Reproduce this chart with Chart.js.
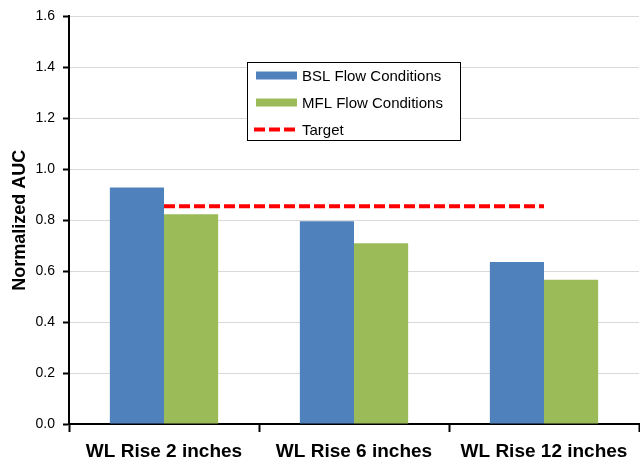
<!DOCTYPE html>
<html>
<head>
<meta charset="utf-8">
<script src="https://cdn.jsdelivr.net/npm/chart.js@4/dist/chart.umd.min.js"></script>
<style>
  html, body { margin: 0; padding: 0; background: #fff; }
  #wrap { width: 640px; height: 466px; }
</style>
</head>
<body>
<div id="wrap"><canvas id="chartAuc"></canvas></div>
<script>
'use strict';

var categories = ['WL Rise 2 inches', 'WL Rise 6 inches', 'WL Rise 12 inches'];
var bslValues = [0.928, 0.796, 0.636];
var mflValues = [0.823, 0.710, 0.566];
var targetValues = [0.855, 0.855, 0.855];
var seriesNames = ['BSL Flow Conditions', 'MFL Flow Conditions', 'Target'];

var FONT = "'Liberation Sans', Arial, sans-serif";

// legend box drawn inside the plot, like the original
var boxLegend = {
    id: 'boxLegend',
    afterDraw: function (chart) {
        var ctx = chart.ctx;
        var x = 247, y = 62, w = 213, h = 78;
        ctx.save();
        ctx.fillStyle = '#fff';
        ctx.fillRect(x, y, w, h);
        ctx.strokeStyle = '#000';
        ctx.lineWidth = 1;
        ctx.strokeRect(x + 0.5, y + 0.5, w, h);
        ctx.font = '15px ' + FONT;
        ctx.textBaseline = 'middle';
        chart.data.datasets.forEach(function (ds, i) {
            var cy = 75.5 + i * 27;
            if (ds.type === 'line') {
                ctx.strokeStyle = ds.borderColor;
                ctx.lineWidth = 4;
                ctx.setLineDash([11, 4]);
                ctx.beginPath();
                ctx.moveTo(254, cy);
                ctx.lineTo(297, cy);
                ctx.stroke();
                ctx.setLineDash([]);
            } else {
                ctx.fillStyle = ds.backgroundColor;
                ctx.fillRect(256, cy - 4, 41, 8);
            }
            ctx.fillStyle = '#000';
            ctx.fillText(ds.label, 302, cy + 1);
        });
        ctx.restore();
    }
};

var ctx = document.getElementById('chartAuc');
var aucChart = new Chart(ctx, {
    type: 'bar',
    data: {
        labels: categories,
        datasets: [
            {
                label: seriesNames[0],
                data: bslValues,
                backgroundColor: '#4F81BD',
                borderWidth: 0,
                order: 1
            },
            {
                label: seriesNames[1],
                data: mflValues,
                backgroundColor: '#9BBB59',
                borderWidth: 0,
                order: 1
            },
            {
                label: seriesNames[2],
                type: 'line',
                data: targetValues,
                borderColor: '#ff0000',
                borderWidth: 4,
                borderDash: [11, 4],
                pointRadius: 0,
                fill: false,
                order: 0
            }
        ]
    },
    options: {
        responsive: true,
        maintainAspectRatio: false,
        animation: false,
        categoryPercentage: 0.57,
        barPercentage: 1.0,
        layout: { padding: { top: 14, right: 1, left: 0, bottom: 0 } },
        plugins: {
            legend: { display: false },
            tooltip: { enabled: false }
        },
        scales: {
            x: {
                offset: true,
                grid: {
                    display: true,
                    offset: true,
                    drawOnChartArea: false,
                    drawTicks: true,
                    tickLength: 8,
                    tickColor: '#000',
                    tickWidth: 2
                },
                border: { color: '#000', width: 2 },
                ticks: {
                    color: '#000',
                    font: { family: FONT, size: 19, weight: 'bold' },
                    padding: 8,
                    maxRotation: 0
                },
                afterFit: function (scale) { scale.height = 42; }
            },
            y: {
                min: 0,
                max: 1.6,
                ticks: {
                    stepSize: 0.2,
                    color: '#000',
                    font: { family: FONT, size: 14 },
                    padding: 8,
                    callback: function (v) { return v.toFixed(1); }
                },
                grid: {
                    color: '#d9d9d9',
                    lineWidth: 1,
                    tickLength: 6,
                    tickColor: '#000',
                    tickWidth: 2
                },
                border: { color: '#000', width: 2 },
                title: {
                    display: true,
                    text: 'Normalized AUC',
                    color: '#000',
                    font: { family: FONT, size: 18, weight: 'bold' },
                    padding: { top: 9, bottom: 0 }
                },
                afterFit: function (scale) { scale.width = 69; }
            }
        }
    },
    plugins: [boxLegend]
});
</script>
</body>
</html>
